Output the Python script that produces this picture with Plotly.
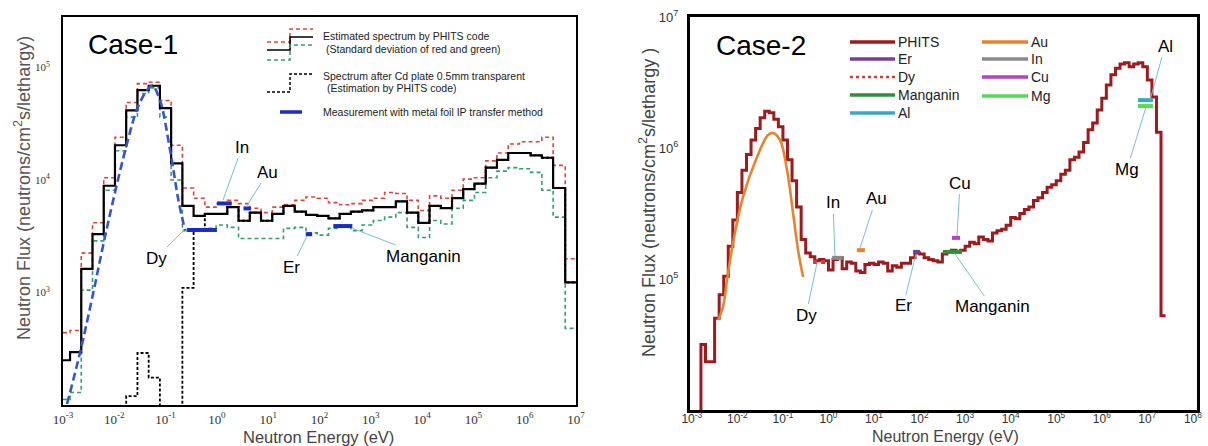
import plotly.graph_objects as go

W, H = 1208, 446

# ---------------- Case-1 data ----------------
# histogram bin edges (log10 of energy in eV)
c1_edges_log10 = [-3.0, -2.863, -2.644, -2.425, -2.206, -1.987, -1.768, -1.549, -1.330, -1.111,
                  -0.892, -0.673, -0.454, -0.235, -0.016, 0.203, 0.422, 0.641, 0.860, 1.079,
                  1.298, 1.517, 1.736, 1.955, 2.174, 2.393, 2.612, 2.831, 3.050, 3.269,
                  3.488, 3.707, 3.926, 4.145, 4.364, 4.583, 4.802, 5.021, 5.240, 5.459,
                  5.678, 5.897, 6.116, 6.335, 6.554, 6.79, 7.0]
c1_phits = [250, 295, 1620, 3300, 8900, 20400, 41700, 63000, 69000, 43600,
            14100, 5900, 4800, 5000, 5000, 5750, 4350, 5130, 4350, 5000,
            5900, 5250, 4900, 4800, 4570, 5000, 5250, 5370, 5750, 5750,
            6460, 5130, 4170, 5900, 5620, 6900, 8300, 9300, 12900, 15100,
            17400, 17400, 16600, 15800, 8500, 1230]
c1_upper = [440, 460, 2240, 4170, 10500, 24000, 49000, 72000, 74000, 51000,
            20400, 8500, 6900, 5750, 6170, 6600, 6170, 5620, 5130, 5750,
            6030, 6600, 7080, 6900, 6300, 6030, 6170, 6600, 6900, 7760,
            7600, 6600, 5370, 7240, 6900, 8130, 10200, 10500, 14800, 17400,
            20900, 21900, 21900, 24000, 13500, 2000]
c1_lower = [112, 129, 1050, 2880, 8130, 18200, 36300, 58900, 66100, 36300,
            10000, 3550, 3550, 3720, 3980, 3800, 3020, 3020, 3020, 3020,
            3720, 3800, 3390, 3240, 3720, 3980, 3550, 3980, 4370, 4680,
            5130, 3800, 3090, 4370, 4070, 5620, 6600, 7760, 10500, 12000,
            12900, 12600, 11700, 8130, 4680, 480]
# Cd-covered spectrum: bins 5..12 (below-axis values drawn off-scale), then follows PHITS
c1_cd_low = [10, 120, 290, 175, 10, 10, 1100, 3550]
# measured thermal spectrum (blue dashed)
c1_fit_E = [0.0012, 0.00214, 0.0039, 0.006, 0.0095, 0.0178, 0.0288, 0.0437, 0.055,
            0.0776, 0.123, 0.178, 0.24]
c1_fit_F = [102, 290, 1000, 2570, 6600, 21400, 44700, 63100, 69200, 51300, 18200, 6600, 3550]
# metal foil measurements
c1_meas_names = ["Dy", "In", "Au", "Er", "Manganin"]
c1_meas_Elo = [0.26, 1.0, 3.3, 54, 186]
c1_meas_Ehi = [1.0, 1.95, 4.6, 72, 436]
c1_meas_F = [3600, 6200, 5600, 3300, 3900]

# ---------------- Case-2 data ----------------
c2_edges_log10 = [-2.8, -2.7, -2.6, -2.5, -2.4, -2.3, -2.2, -2.1, -2.0, -1.9,
                  -1.8, -1.7, -1.6, -1.5, -1.4, -1.3, -1.2, -1.1, -1.0, -0.9,
                  -0.8, -0.7, -0.6, -0.5, -0.4, -0.3, -0.2, -0.1, 0.0, 0.1,
                  0.2, 0.3, 0.4, 0.5, 0.6, 0.7, 0.8, 0.9, 1.0, 1.1,
                  1.2, 1.3, 1.4, 1.5, 1.6, 1.7, 1.8, 1.9, 2.0, 2.1,
                  2.2, 2.3, 2.4, 2.5, 2.6, 2.7, 2.8, 2.9, 3.0, 3.1,
                  3.2, 3.3, 3.4, 3.5, 3.6, 3.7, 3.8, 3.9, 4.0, 4.1,
                  4.2, 4.3, 4.4, 4.5, 4.6, 4.7, 4.8, 4.9, 5.0, 5.1,
                  5.2, 5.3, 5.4, 5.5, 5.6, 5.7, 5.8, 5.9, 6.0, 6.1,
                  6.2, 6.3, 6.4, 6.5, 6.6, 6.7, 6.8, 6.9, 7.0, 7.1,
                  7.2, 7.3, 7.4]
c2_phits = [31600, 23400, 23400, 50100, 75900, 105000, 178000, 282000, 457000, 676000,
            891000, 1150000, 1410000, 1700000, 1910000, 1860000, 1660000, 1450000, 1150000, 813000,
            562000, 355000, 200000, 158000, 148000, 138000, 141000, 138000, 117000, 141000,
            145000, 120000, 135000, 132000, 115000, 112000, 129000, 132000, 129000, 135000,
            132000, 115000, 126000, 123000, 132000, 132000, 145000, 158000, 155000, 145000,
            141000, 138000, 135000, 155000, 162000, 166000, 162000, 166000, 178000, 191000,
            186000, 209000, 200000, 195000, 224000, 234000, 240000, 257000, 295000, 288000,
            316000, 339000, 355000, 398000, 417000, 457000, 501000, 525000, 562000, 631000,
            676000, 813000, 851000, 933000, 1100000, 1380000, 1550000, 1950000, 2400000, 3020000,
            3630000, 4070000, 4370000, 4470000, 4170000, 4370000, 4470000, 4170000, 3310000, 2450000,
            1320000, 52500]
c2_fit_E = [0.00376, 0.00483, 0.00592, 0.00801, 0.0133, 0.027, 0.047, 0.0605, 0.0863,
            0.123, 0.167, 0.215, 0.277]
c2_fit_F = [48600, 61100, 98200, 188000, 423000, 853000, 1256000, 1303000, 1151000,
            679000, 319000, 166000, 103500]
c2_meas_names = ["In", "Au", "Dy", "Er", "Manganin", "Cu", "Mg", "Al"]
c2_meas_Elo = [1.2, 4.2, 0.46, 72, 324, 513, 6.24e6, 6.24e6]
c2_meas_Ehi = [2.04, 6.3, 0.98, 102, 851, 776, 1.33e7, 1.33e7]
c2_meas_F = [145000, 166000, 135000, 161000, 161000, 206000, 2.09e6, 2.32e6]

# ---------------- styles ----------------
RED = "#e0453c"
GREEN = "#35a06a"
BLUE_FIT = "#3656c8"
BLUE_BAR = "#1a2bc8"
LEADER = "#7cc0c9"
c2_colors = {"PHITS": "#9b1b1e", "Er": "#7040a0", "Dy": "#c8403a", "Manganin": "#2f8f3a",
             "Al": "#3ba6c8", "Au": "#e58430", "In": "#8a8a8a", "Cu": "#b63fcc", "Mg": "#5ad65a"}


def steps(edges_log10, vals):
    xs = [10 ** e for e in edges_log10]
    ys = list(vals) + [vals[-1]]
    return xs, ys


def X(px):
    return px / W


def Y(py):
    return 1 - py / H


fig = go.Figure()

# ---- Case-1 traces ----
for vals, color, dash, width in [(c1_upper, RED, "4px,3px", 1.6), (c1_lower, GREEN, "4px,3px", 1.6),
                                 (c1_phits, "black", "solid", 2.2)]:
    xs, ys = steps(c1_edges_log10, vals)
    fig.add_trace(go.Scatter(x=xs, y=ys, mode="lines", line=dict(shape="hv", color=color, dash=dash, width=width),
                             showlegend=False, xaxis="x", yaxis="y"))
c1_cd = [None] * 5 + c1_cd_low + c1_phits[13:]
xs, ys = steps(c1_edges_log10, c1_cd)
fig.add_trace(go.Scatter(x=xs, y=ys, mode="lines", line=dict(shape="hv", color="black", dash="3px,2px", width=1.8),
                         showlegend=False, xaxis="x", yaxis="y"))
fig.add_trace(go.Scatter(x=c1_fit_E, y=c1_fit_F, mode="lines",
                         line=dict(shape="spline", color=BLUE_FIT, dash="8px,4px", width=2.6),
                         showlegend=False, xaxis="x", yaxis="y"))
bx, by = [], []
for lo, hi, f in zip(c1_meas_Elo, c1_meas_Ehi, c1_meas_F):
    bx += [lo, hi, None]
    by += [f, f, None]
fig.add_trace(go.Scatter(x=bx, y=by, mode="lines", line=dict(color=BLUE_BAR, width=4),
                         showlegend=False, xaxis="x", yaxis="y"))

# ---- Case-2 traces ----
xs, ys = steps(c2_edges_log10, c2_phits)
xs = [xs[0]] + xs
ys = [1000] + ys
fig.add_trace(go.Scatter(x=xs, y=ys, mode="lines", line=dict(shape="hv", color=c2_colors["PHITS"], width=3),
                         showlegend=False, xaxis="x2", yaxis="y2"))
fig.add_trace(go.Scatter(x=c2_fit_E, y=c2_fit_F, mode="lines",
                         line=dict(shape="spline", color=c2_colors["Au"], width=2.6),
                         showlegend=False, xaxis="x2", yaxis="y2"))
for name, lo, hi, f in zip(c2_meas_names, c2_meas_Elo, c2_meas_Ehi, c2_meas_F):
    fig.add_trace(go.Scatter(x=[lo, hi], y=[f, f], mode="lines",
                             line=dict(color=c2_colors[name], width=4, dash="dot" if name == "Dy" else "solid"),
                             showlegend=False, xaxis="x2", yaxis="y2"))

# ---- axes ----
def sup_labels(powers):
    return ["10<sup>%d</sup>" % p for p in powers]

c1_xpow = list(range(-3, 8))
c1_ypow = [3, 4, 5]
c2_xpow = list(range(-3, 9))
c2_ypow = [5, 6, 7]

common = dict(showgrid=False, zeroline=False, showline=True, mirror=True, linecolor="black", ticks="",
              automargin=False)
fig.update_layout(
    width=W, height=H, margin=dict(l=0, r=0, t=0, b=0, pad=0, autoexpand=False),
    paper_bgcolor="white", plot_bgcolor="white", showlegend=False,
    xaxis=dict(type="log", range=[-3, 7], domain=[X(63), X(576)], anchor="y", linewidth=2,
               tickvals=[10 ** p for p in c1_xpow], ticktext=sup_labels(c1_xpow),
               tickfont=dict(family="Liberation Serif", size=13, color="#333"), ticklabelstandoff=1, **common),
    yaxis=dict(type="log", range=[2, 5.45], domain=[Y(405), Y(17)], anchor="x", linewidth=2,
               tickvals=[10 ** p for p in c1_ypow], ticktext=sup_labels(c1_ypow),
               tickfont=dict(family="Liberation Serif", size=11, color="#333"), ticklabelstandoff=9, **common),
    xaxis2=dict(type="log", range=[-3.04, 8.09], domain=[X(690), X(1197)], anchor="y2", linewidth=3,
                tickvals=[10 ** p for p in c2_xpow], ticktext=sup_labels(c2_xpow),
                tickfont=dict(family="Arial", size=12, color="#333"), ticklabelstandoff=-4, **common),
    yaxis2=dict(type="log", range=[4, 7], domain=[Y(410), Y(17)], anchor="x2", linewidth=3,
                tickvals=[10 ** p for p in c2_ypow], ticktext=sup_labels(c2_ypow),
                tickfont=dict(family="Arial", size=13, color="#333"), ticklabelstandoff=6, **common),
)

ann = []
shapes = []


def ptext(txt, px, py, font, xanchor="center", angle=0):
    return dict(x=X(px), y=Y(py), xref="paper", yref="paper", text=txt, showarrow=False,
                xanchor=xanchor, yanchor="middle", textangle=angle, font=font, borderpad=0)


# axis titles
ann.append(ptext("Neutron Energy (eV)", 318, 437, dict(family="Arial", size=16.5, color="#444")))
ann.append(ptext("Neutron Energy (eV)", 946, 436, dict(family="Arial", size=16, color="#444")))
ann.append(ptext("Neutron Flux (neutrons/cm<sup>2</sup>s/lethargy)", 22, 188,
                 dict(family="Arial", size=18, color="#555"), angle=-90))
ann.append(ptext("Neutron Flux (neutrons/cm<sup>2</sup>s/lethargy )", 647, 203,
                 dict(family="Arial", size=18, color="#444"), angle=-90))
# case labels
ann.append(ptext("Case-1", 133, 45, dict(family="Arial", size=28, color="black")))
ann.append(ptext("Case-2", 761, 46, dict(family="Arial", size=28, color="black")))


# ---- Case-1 legend ----
def path(pts):
    return "M " + " L ".join("%.5f,%.5f" % (X(a), Y(b)) for a, b in pts)


for pts, color, dash, wd in [
    ([(267, 42), (290, 42), (290, 29), (313, 29)], RED, "4px,3px", 1.5),
    ([(267, 50), (290, 50), (290, 37), (313, 37)], "black", "solid", 1.6),
    ([(267, 60), (290, 60), (290, 45), (313, 45)], GREEN, "4px,3px", 1.5),
    ([(267, 92), (290, 92), (290, 74), (313, 74)], "black", "3px,2px", 1.5),
    ([(280, 112), (302, 112)], BLUE_BAR, "solid", 3.5),
]:
    shapes.append(dict(type="path", xref="paper", yref="paper", path=path(pts),
                       line=dict(color=color, dash=dash, width=wd)))
LEG1 = dict(family="Arial", size=10.5, color="#222")
for txt, px, py in [("Estimated spectrum by PHITS code", 322, 36),
                    ("(Standard deviation of red and green)", 325, 49),
                    ("Spectrum after Cd plate 0.5mm transparent", 322, 76),
                    ("(Estimation by PHITS code)", 326, 88),
                    ("Measurement with metal foil IP transfer method", 322, 112)]:
    ann.append(ptext(txt, px, py, LEG1, xanchor="left"))

# ---- Case-2 legend ----
LEG2 = dict(family="Arial", size=14, color="#222")
for name, x0, x1, tx, py in [("PHITS", 850, 895, 897, 42), ("Er", 850, 895, 897, 59), ("Dy", 850, 895, 897, 77),
                             ("Manganin", 850, 895, 897, 95), ("Al", 850, 895, 897, 113),
                             ("Au", 982, 1028, 1030, 42), ("In", 982, 1028, 1030, 59),
                             ("Cu", 982, 1028, 1030, 77), ("Mg", 982, 1028, 1030, 96)]:
    shapes.append(dict(type="line", xref="paper", yref="paper", x0=X(x0), x1=X(x1), y0=Y(py), y1=Y(py),
                       line=dict(color=c2_colors[name], width=3.5 if name != "Dy" else 2.5,
                                 dash="dot" if name == "Dy" else "solid")))
    ann.append(ptext(name, tx, py, LEG2, xanchor="left"))

# ---- leader labels ----
LBL = dict(family="Arial", size=17, color="black")
c1_labels = [("In", 0.119, 3.822, 19, -53), ("Au", 0.567, 3.76, 22, -35), ("Dy", -0.641, 3.556, -28, 28),
             ("Er", 1.756, 3.502, -15, 31), ("Manganin", 2.633, 3.573, 72, 28)]
c2_labels = [("In", 0.143, 5.176, -2, -53), ("Au", 0.692, 5.237, 16, -49), ("Dy", -0.252, 5.122, -11, 52),
             ("Er", 1.922, 5.191, -13, 52), ("Cu", 2.822, 5.328, 3, -53), ("Manganin", 2.778, 5.191, 37, 53),
             ("Mg", 6.971, 6.313, -19, 62), ("Al", 7.059, 6.366, 15, -54)]
for labels, xr, yr in [(c1_labels, "x", "y"), (c2_labels, "x2", "y2")]:
    for txt, lx, ly, ax, ay in labels:
        ann.append(dict(x=lx, y=ly, xref=xr, yref=yr, text=txt, showarrow=True, arrowhead=0, arrowwidth=1,
                        arrowcolor=LEADER, ax=ax, ay=ay, standoff=0, font=LBL))

fig.update_layout(annotations=ann, shapes=shapes)
fig.write_html("out.html")
